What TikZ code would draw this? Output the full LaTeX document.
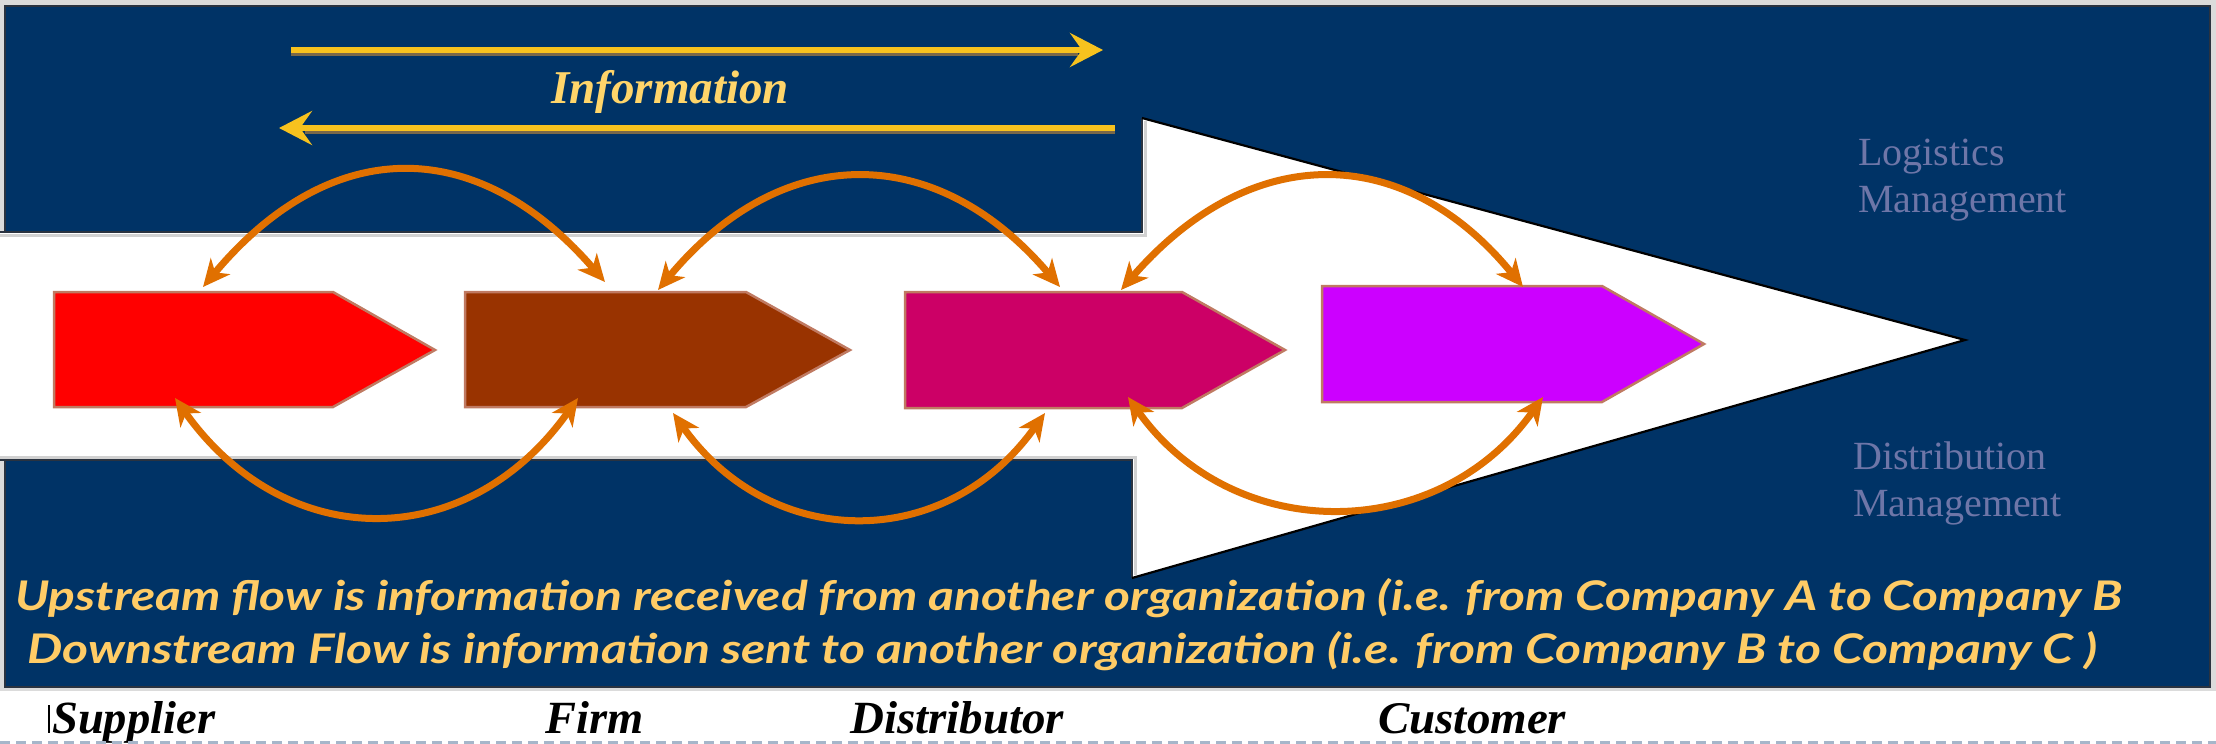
\documentclass[tikz,border=0pt]{standalone}
\usepackage{fontspec}
\setmainfont{Liberation Serif}
\newfontfamily\capfont{Lato}
\usetikzlibrary{arrows.meta}
\definecolor{navy}{HTML}{003366}
\definecolor{gold}{HTML}{F7C21E}
\definecolor{goldshadow}{HTML}{7A6848}
\definecolor{infotext}{HTML}{FFD56A}
\definecolor{arcorange}{HTML}{E07000}
\definecolor{mgmt}{HTML}{6E76A8}
\definecolor{captxt}{HTML}{FFCC66}
\definecolor{dashc}{HTML}{A6B6CA}
\definecolor{pred}{HTML}{FF0000}
\definecolor{pbrown}{HTML}{993300}
\definecolor{pmag}{HTML}{CC0066}
\definecolor{ppur}{HTML}{CC00FF}
\definecolor{pedge}{HTML}{C07A62}
\definecolor{edgedark}{HTML}{2A3340}
\begin{document}
\begin{tikzpicture}[x=1pt,y=-1pt,
  flowarc/.style={draw=arcorange, line width=7pt,
    {Stealth[length=27pt,width=25pt,inset=8pt]}-{Stealth[length=27pt,width=25pt,inset=8pt]}},
  infoarrow/.style={draw=gold, line width=5.5pt,
    -{Stealth[length=33pt,width=34pt,inset=12pt]}},
  infoshadow/.style={draw=goldshadow, line width=3pt},
  pent/.style={draw=pedge, line width=2.5pt, line join=miter},
  mgmtlabel/.style={text=mgmt, font=\fontsize{40}{47}\selectfont, align=left, anchor=north west, inner sep=0pt},
  caption/.style={text=captxt, anchor=base west, inner sep=0pt},
  partylabel/.style={text=black, anchor=base west, inner sep=0pt}
]
\useasboundingbox (0,0) rectangle (2216,744);
\fill[white] (0,0) rectangle (2216,744);
% navy panel with light gray rim
\fill[black!14] (0,0) rectangle (2216,691);
\fill[navy] (5,6) rectangle (2210,687);
\draw[edgedark, line width=1.5pt] (5,6) rectangle (2210,687);
% white big arrow (band + triangle)
\fill[white] (0,232) -- (1142,232) -- (1142,118) -- (1965,340) -- (1132,578) -- (1132,460) -- (0,460) -- cycle;
\draw[black!18, line width=3pt] (0,235) -- (1145,235) -- (1145,121);
\draw[black!18, line width=3pt] (0,457) -- (1135,457) -- (1135,575);
\draw[edgedark, line width=2pt] (0,232) -- (1142,232) -- (1142,118);
\draw[edgedark, line width=2pt] (0,460) -- (1132,460) -- (1132,578);
\draw[black, line width=2.2pt] (1142,118) -- (1965,340) -- (1132,578);

% information arrows
\coordinate (ia) at (291,50);
\coordinate (ib) at (1103,50);
\coordinate (ic) at (1115,128);
\coordinate (id) at (279,128);
\draw[infoshadow] (291,54.5) -- (1078,54.5);
\draw[infoarrow] (ia) -- (ib);
\draw[infoshadow] (1115,132) -- (305,132);
\draw[infoarrow] (ic) -- (id);
\node[text=infotext, font=\bfseries\itshape\fontsize{47}{50}\selectfont, anchor=base, inner sep=0pt] (info) at (670,103) {Information};

% companies (pentagon arrows)
\path[pent, fill=pred]   (54,292) -- (333,292) -- (435,350) -- (333,407) -- (54,407) -- cycle;
\path[pent, fill=pbrown] (465,292) -- (746,292) -- (850,350) -- (746,407) -- (465,407) -- cycle;
\path[pent, fill=pmag]   (905,292) -- (1182,292) -- (1285,350) -- (1182,408) -- (905,408) -- cycle;
\path[pent, fill=ppur]   (1322,286) -- (1602,286) -- (1704,344) -- (1602,402) -- (1322,402) -- cycle;

% arc end points
\coordinate (t1a) at (203,287);  \coordinate (t1b) at (605,282);
\coordinate (t2a) at (658,290);  \coordinate (t2b) at (1060,287);
\coordinate (t3a) at (1121,290); \coordinate (t3b) at (1523,287);
\coordinate (b1a) at (175,398);  \coordinate (b1b) at (578,398);
\coordinate (b2a) at (673,413);  \coordinate (b2b) at (1045,413);
\coordinate (b3a) at (1128,397); \coordinate (b3b) at (1543,397);

\draw[flowarc] (t1a) .. controls (331,134) and (477,134) .. (t1b);
\draw[flowarc] (t2a) .. controls (782,141) and (936,141) .. (t2b);
\draw[flowarc] (t3a) .. controls (1250,141) and (1404,141) .. (t3b);
\draw[flowarc] (b1a) .. controls (286,554) and (467,554) .. (b1b);
\draw[flowarc] (b2a) .. controls (772,552) and (946,552) .. (b2b);
\draw[flowarc] (b3a) .. controls (1233,545) and (1438,545) .. (b3b);

% management labels
\node[mgmtlabel] (logm) at (1858,139) {Logistics\\Management};
\node[mgmtlabel] (distm) at (1853,442) {Distribution\\Management};

% captions
\node[caption] (up) at (15,610) {\resizebox{2106pt}{32pt}{\capfont\bfseries\itshape Upstream flow is information received from another organization (i.e. from Company A to Company B}};
\node[caption] (down) at (27,663) {\resizebox{2069pt}{32pt}{\capfont\bfseries\itshape Downstream Flow is information sent to another organization (i.e. from Company B to Company C )}};

% party labels
\coordinate (bar1) at (49,705);
\coordinate (bar2) at (49,733);
\draw[black, line width=1.5pt] (bar1) -- (bar2);
\node[partylabel] (sup) at (52,733) {\resizebox{163pt}{32pt}{\bfseries\itshape Supplier}};
\node[partylabel] (firm) at (545,733) {\resizebox{98pt}{32pt}{\bfseries\itshape Firm}};
\node[partylabel] (dist) at (850,733) {\resizebox{214pt}{32pt}{\bfseries\itshape Distributor}};
\node[partylabel] (cust) at (1378,733) {\resizebox{188pt}{30pt}{\bfseries\itshape Customer}};

% dashed base line
\coordinate (dl) at (0,742);
\coordinate (dr) at (2216,742);
\draw[dashc, line width=3pt, dash pattern=on 10pt off 6pt] (dl) -- (dr);
\end{tikzpicture}
\end{document}
